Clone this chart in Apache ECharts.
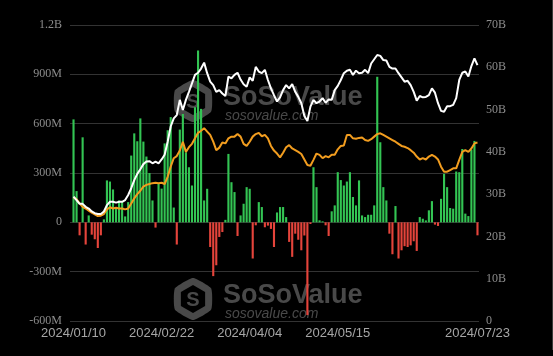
<!DOCTYPE html>
<html>
<head>
<meta charset="utf-8">
<script src="https://cdn.jsdelivr.net/npm/echarts/dist/echarts.min.js"></script>
<style>
html,body{margin:0;padding:0;background:#000;}
#c{width:553px;height:356px;}
</style>
</head>
<body>
<div id="c"></div>
<script>
// Trading days (categories)
const dates = [
'2024/01/10','2024/01/11','2024/01/12','2024/01/16','2024/01/17','2024/01/18','2024/01/19','2024/01/22','2024/01/23','2024/01/24',
'2024/01/25','2024/01/26','2024/01/29','2024/01/30','2024/01/31','2024/02/01','2024/02/02','2024/02/05','2024/02/06','2024/02/07',
'2024/02/08','2024/02/09','2024/02/12','2024/02/13','2024/02/14','2024/02/15','2024/02/16','2024/02/20','2024/02/21','2024/02/22',
'2024/02/23','2024/02/26','2024/02/27','2024/02/28','2024/02/29','2024/03/01','2024/03/04','2024/03/05','2024/03/06','2024/03/07',
'2024/03/08','2024/03/11','2024/03/12','2024/03/13','2024/03/14','2024/03/15','2024/03/18','2024/03/19','2024/03/20','2024/03/21',
'2024/03/22','2024/03/25','2024/03/26','2024/03/27','2024/03/28','2024/04/01','2024/04/02','2024/04/03','2024/04/04','2024/04/05',
'2024/04/08','2024/04/09','2024/04/10','2024/04/11','2024/04/12','2024/04/15','2024/04/16','2024/04/17','2024/04/18','2024/04/19',
'2024/04/22','2024/04/23','2024/04/24','2024/04/25','2024/04/26','2024/04/29','2024/04/30','2024/05/01','2024/05/02','2024/05/03',
'2024/05/06','2024/05/07','2024/05/08','2024/05/09','2024/05/10','2024/05/13','2024/05/14','2024/05/15','2024/05/16','2024/05/17',
'2024/05/20','2024/05/21','2024/05/22','2024/05/23','2024/05/24','2024/05/28','2024/05/29','2024/05/30','2024/05/31','2024/06/03',
'2024/06/04','2024/06/05','2024/06/06','2024/06/07','2024/06/10','2024/06/11','2024/06/12','2024/06/13','2024/06/14','2024/06/17',
'2024/06/18','2024/06/20','2024/06/21','2024/06/24','2024/06/25','2024/06/26','2024/06/27','2024/06/28','2024/07/01','2024/07/02',
'2024/07/03','2024/07/05','2024/07/08','2024/07/09','2024/07/10','2024/07/11','2024/07/12','2024/07/15','2024/07/16','2024/07/17',
'2024/07/18','2024/07/19','2024/07/22','2024/07/23'
];

// Daily net inflow (US$ million) - bars, left axis
const dailyNetInflow = [
626,190,-79,517,-135,42,-75,-103,-156,-79,
18,255,248,200,93,133,123,36,123,406,
541,493,632,491,400,300,133,-32,240,205,
480,560,640,90,-135,564,659,426,335,224,
700,1045,690,133,204,-150,-327,-261,-89,-59,
15,416,244,184,-83,42,113,214,204,-220,
-18,123,93,-30,-20,-40,-150,60,93,93,
32,-119,-210,-69,-106,-170,-80,-564,-10,335,
214,12,6,-18,-83,67,103,305,257,224,
248,305,154,103,255,42,32,46,46,103,
885,487,214,133,-69,-194,99,-220,-170,-145,
-150,-140,-115,-174,32,22,12,73,129,-14,
-22,143,295,214,87,83,309,305,446,53,
38,442,495,-79
];

// Total net assets (US$ billion) - white line, right axis
const totalNetAssets = [
29.4,28.6,27.7,27.7,27.0,26.6,25.9,25.5,25.3,25.3,
25.9,27.4,28.2,28.2,28.0,28.2,28.2,28.6,29.8,31.4,
33.3,34.8,35.9,37.1,37.7,37.8,37.3,37.7,37.3,38.2,
39.3,42.4,46.0,47.9,48.7,52.3,49.9,52.3,54.2,56.2,
58.2,58.7,59.7,61.1,58.6,56.6,55.8,54.2,54.6,53.8,
53.2,57.8,57.4,58.2,58.7,57.1,56.0,55.4,57.6,56.8,
60.1,59.0,58.6,59.4,57.0,55.0,53.4,51.9,52.9,54.6,
55.8,55.0,56.0,54.2,53.0,51.5,48.5,47.3,50.7,52.3,
51.5,51.9,52.7,51.6,52.4,52.3,54.6,55.6,57.0,58.6,
59.2,59.4,58.2,59.2,58.6,58.7,59.4,58.6,60.9,61.9,
62.9,62.7,61.7,61.6,60.1,59.7,59.7,58.6,57.6,56.6,
56.8,55.8,54.2,52.1,53.2,52.9,53.0,53.4,55.0,54.0,
51.5,49.7,49.5,50.8,50.8,51.1,52.7,57.0,58.7,59.0,
57.8,60.3,62.1,60.5
];

// Orange line (right axis units, billion)
const orangeLine = [
29.2,28.8,27.8,27.0,26.6,26.1,25.6,25.2,24.8,24.9,
25.3,26.4,26.9,26.6,26.8,26.6,26.6,26.4,26.6,27.8,
29.0,30.0,30.8,31.8,32.2,32.4,32.6,32.7,32.6,32.7,
32.4,34.1,36.5,38.5,39.0,40.3,42.4,40.0,41.1,41.9,
43.2,44.5,45.0,45.6,44.8,44.0,42.4,40.4,41.0,42.2,
42.0,43.2,43.6,43.6,44.2,43.6,41.9,41.4,42.4,43.6,
44.2,44.5,43.7,44.0,43.2,41.4,40.3,39.6,38.7,39.8,
41.1,41.6,40.8,40.4,40.0,39.5,38.2,36.9,36.7,38.1,
39.6,39.3,38.5,39.0,38.7,39.3,39.3,40.6,41.4,41.5,
44.0,44.0,43.2,43.1,43.3,43.4,42.8,42.6,43.0,43.6,
44.2,44.4,44.0,43.6,43.2,42.8,42.4,41.9,41.4,41.2,
40.9,40.4,39.8,38.9,38.2,38.5,38.2,38.9,39.3,38.9,
38.2,36.5,35.3,35.3,35.7,36.1,36.1,38.1,40.0,40.4,
40.0,40.8,42.0,42.2
];

const xLabelIndices = [0, 29, 58, 87, 133];
const leftAxisRange = {min: -600, max: 1200, interval: 300};
const rightAxisRange = {min: 0, max: 70, interval: 10};

const chart = echarts.init(document.getElementById('c'), null, {renderer: 'canvas'});

function hexPoints(cx, cy, r) {
  const pts = [];
  for (let k = 0; k < 6; k++) {
    const a = Math.PI / 180 * (60 * k - 90);
    pts.push([cx + r * Math.cos(a), cy + r * Math.sin(a)]);
  }
  return pts;
}
function watermark(cy) {
  const cx = 193;
  const gray = 'rgba(125,125,125,0.58)';
  return [
    {type: 'polygon', z: 0, shape: {points: hexPoints(cx, cy, 21), smooth: 0.15}, style: {fill: gray}},
    {type: 'polygon', z: 0, shape: {points: hexPoints(cx, cy, 14)}, style: {fill: '#000'}},
    {type: 'text', z: 0, x: cx, y: cy + 1, style: {text: 'S', font: 'bold 20px "Liberation Sans", Arial, sans-serif', fill: gray, align: 'center', verticalAlign: 'middle'}},
    {type: 'text', z: 0, x: 223, y: cy - 17, style: {text: 'SoSoValue', font: 'bold 27px "Liberation Sans", Arial, sans-serif', fill: gray, align: 'left', verticalAlign: 'top'}},
    {type: 'text', z: 0, x: 225, y: cy + 8, style: {text: 'sosovalue.com', font: 'italic 14px "Liberation Sans", Arial, sans-serif', fill: gray, align: 'left', verticalAlign: 'top'}}
  ];
}

const option = {
  backgroundColor: '#000',
  animation: false,
  grid: {left: 72, right: 74, top: 25, bottom: 35, containLabel: false},
  graphic: [].concat(watermark(101), watermark(299), [
    {type: 'line', z: 0, shape: {x1: 552.5, y1: 0, x2: 552.5, y2: 350}, style: {stroke: '#3a3a3a', lineWidth: 1}}
  ]),
  xAxis: {
    type: 'category',
    data: dates,
    boundaryGap: true,
    axisLine: {show: false},
    axisTick: {show: false},
    splitLine: {show: false},
    axisLabel: {
      interval: function (idx) { return xLabelIndices.indexOf(idx) >= 0; },
      color: '#a6a6a6',
      fontSize: 13,
      fontFamily: '"Liberation Sans", Arial, sans-serif',
      margin: 6,
      showMaxLabel: true
    }
  },
  yAxis: [
    {
      type: 'value',
      min: leftAxisRange.min, max: leftAxisRange.max, interval: leftAxisRange.interval,
      axisLine: {show: false},
      axisTick: {show: true, length: 2, lineStyle: {color: '#333'}},
      splitLine: {show: true, lineStyle: {color: '#333', width: 1}},
      axisLabel: {
        color: '#8c8c8c', fontSize: 12, fontFamily: '"Liberation Serif", "Times New Roman", serif', margin: 10,
        formatter: function (v) { if (v === 0) return '0'; if (Math.abs(v) >= 1000) return (v / 1000) + 'B'; return v + 'M'; }
      }
    },
    {
      type: 'value',
      position: 'right',
      min: rightAxisRange.min, max: rightAxisRange.max, interval: rightAxisRange.interval,
      axisLine: {show: false},
      axisTick: {show: false},
      splitLine: {show: false},
      axisLabel: {
        color: '#8c8c8c', fontSize: 12, fontFamily: '"Liberation Serif", "Times New Roman", serif', margin: 7,
        formatter: function (v) { return v === 0 ? '0' : v + 'B'; }
      }
    }
  ],
  series: [
    {
      name: 'Daily Net Inflow',
      type: 'bar',
      yAxisIndex: 0,
      data: dailyNetInflow,
      barCategoryGap: '30%',
      itemStyle: {
        color: function (p) { return p.value >= 0 ? '#33c453' : '#e5443b'; }
      },
      z: 2
    },
    {
      name: 'Orange',
      type: 'line',
      yAxisIndex: 1,
      data: orangeLine,
      symbol: 'none',
      lineStyle: {color: '#f29d1f', width: 2},
      z: 3
    },
    {
      name: 'Total Net Assets',
      type: 'line',
      yAxisIndex: 1,
      data: totalNetAssets,
      symbol: 'none',
      lineStyle: {color: '#ffffff', width: 2},
      z: 4
    }
  ]
};
chart.setOption(option);
</script>
</body>
</html>
